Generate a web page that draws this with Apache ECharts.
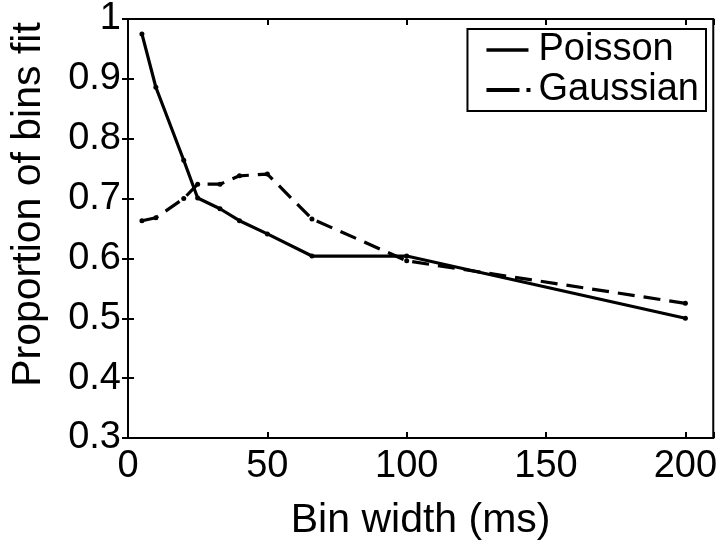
<!DOCTYPE html>
<html>
<head>
<meta charset="utf-8">
<script src="https://cdn.jsdelivr.net/npm/echarts@6/dist/echarts.min.js"></script>
<style>
  html, body { margin: 0; padding: 0; background: #fff; }
  #chart { width: 720px; height: 546px; }
</style>
</head>
<body>
<div id="chart"></div>
<script>
// bin widths (ms) and proportion of bins fit
const poissonX = [5, 10, 20, 25, 33, 40, 50, 66, 100, 200];
const poissonY = [0.975, 0.886, 0.764, 0.701, 0.683, 0.663, 0.641, 0.604, 0.604, 0.5];
const gaussX = [5, 10, 20, 25, 33, 40, 50, 66, 100, 200];
const gaussY = [0.663, 0.668, 0.700, 0.724, 0.724, 0.738, 0.741, 0.666, 0.596, 0.525];
const xTicks = [0, 50, 100, 150, 200];

const FONT = "Liberation Sans";

// legend icons drawn like the matlab ones: a solid line, and a dash followed by a dot
const solidIcon = "path://M0,0 M47,14 M0,5.3 L42,5.3 L42,8.7 L0,8.7 Z";
const dashDotIcon = "path://M0,0 M47,14 M0,5 L33,5 L33,9 L0,9 Z M40,5 L44,5 L44,9 L40,9 Z";

const chart = echarts.init(document.getElementById("chart"), null, { renderer: "canvas" });

const pairs = (xs, ys) => xs.map((x, i) => [x, ys[i]]);

const tick = { show: true, inside: true, length: 6, lineStyle: { color: "#000", width: 2 } };

const option = {
  backgroundColor: "#fff",
  animation: false,
  textStyle: { fontFamily: FONT, color: "#000" },
  grid: {
    left: 126, right: 6, top: 17, bottom: 108,
    show: true, borderColor: "#000", borderWidth: 2
  },
  legend: {
    orient: "vertical",
    right: 14, top: 29,
    padding: [2, 7, 2, 19],
    itemGap: 2,
    itemWidth: 47, itemHeight: 14,
    borderColor: "#000", borderWidth: 2,
    backgroundColor: "#fff",
    itemStyle: { borderWidth: 0 },
    textStyle: { fontFamily: FONT, fontSize: 38, color: "#000" },
    data: [
      { name: "Poisson", icon: solidIcon },
      { name: "Gaussian", icon: dashDotIcon }
    ]
  },
  xAxis: [{
    type: "value", min: 0, max: 210, interval: 50,
    name: "Bin width (ms)", nameLocation: "middle", nameGap: 62,
    nameTextStyle: { fontFamily: FONT, fontSize: 41, color: "#000" },
    axisLine: { show: false },
    axisTick: tick,
    axisLabel: {
      fontFamily: FONT, fontSize: 38, color: "#000", margin: 10,
      formatter: v => (xTicks.includes(v) ? String(v) : "")
    },
    splitLine: { show: false }
  }, {
    type: "value", min: 0, max: 210, interval: 50, position: "top",
    axisLine: { show: false },
    axisTick: tick,
    axisLabel: { show: false },
    splitLine: { show: false }
  }],
  yAxis: [{
    type: "value", min: 0.3, max: 1, interval: 0.1,
    name: "Proportion of bins fit", nameLocation: "middle", nameGap: 79,
    nameTextStyle: { fontFamily: FONT, fontSize: 41, color: "#000", padding: [0, 0, 0, 48] },
    axisLine: { show: false },
    axisTick: tick,
    axisLabel: {
      fontFamily: FONT, fontSize: 38, color: "#000", margin: 7,
      formatter: v => String(parseFloat(v.toFixed(1)))
    },
    splitLine: { show: false }
  }, {
    type: "value", min: 0.3, max: 1, interval: 0.1, position: "right",
    axisLine: { show: false },
    axisTick: tick,
    axisLabel: { show: false },
    splitLine: { show: false }
  }],
  series: [{
    name: "Poisson",
    type: "line",
    data: pairs(poissonX, poissonY),
    symbol: "circle", symbolSize: 5,
    itemStyle: { color: "#000" },
    lineStyle: { color: "#000", width: 3.2, type: "solid" }
  }, {
    name: "Gaussian",
    type: "line",
    data: pairs(gaussX, gaussY),
    symbol: "circle", symbolSize: 5,
    itemStyle: { color: "#000" },
    lineStyle: { color: "#000", width: 3.2, type: [17, 9] }
  }]
};

chart.setOption(option);
</script>
</body>
</html>
